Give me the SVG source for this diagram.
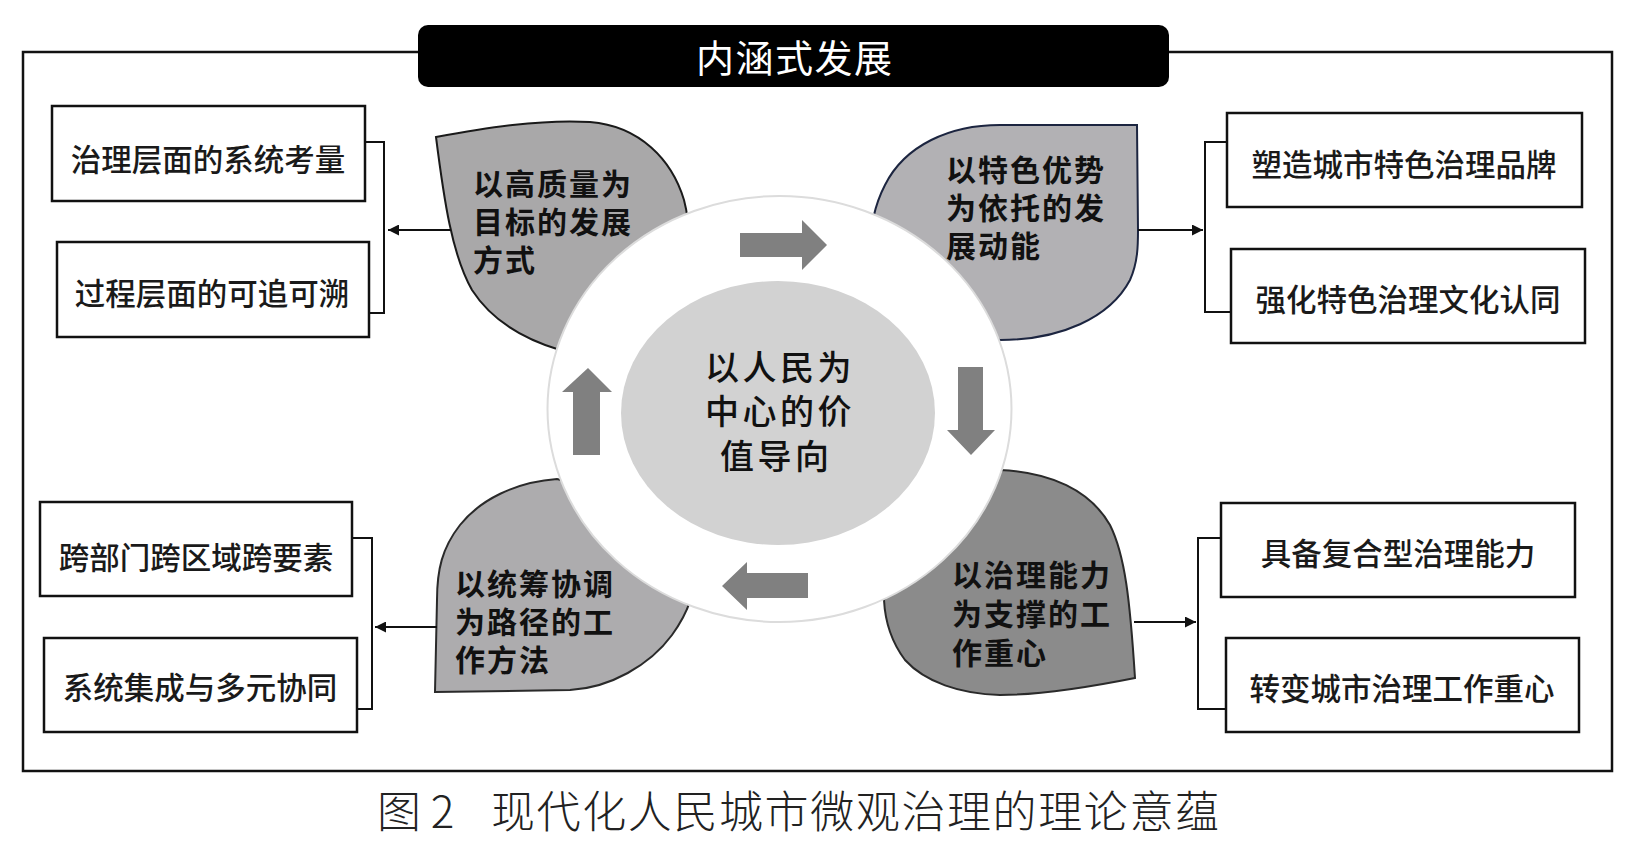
<svg xmlns="http://www.w3.org/2000/svg" width="1634" height="846" viewBox="0 0 1634 846">
<defs>
<style>
.box{fill:#fff;stroke:#111;stroke-width:2.5}
.bt{font-family:"Noto Sans CJK SC","Noto Sans",sans-serif;font-size:30.5px;font-weight:500;fill:#1a1a1a;text-anchor:middle}
.lt{font-family:"Noto Sans CJK SC","Noto Sans",sans-serif;font-size:30px;font-weight:bold;fill:#111;letter-spacing:2px}
.ct{font-family:"Noto Sans CJK SC","Noto Sans",sans-serif;font-size:34px;font-weight:500;fill:#111;letter-spacing:3.5px}
.leaf{stroke-width:2}
.conn{fill:none;stroke:#111;stroke-width:2}
.blk{fill:#808080}
</style>
<marker id="ah" viewBox="0 0 10 10" refX="10" refY="5" markerWidth="11" markerHeight="11" markerUnits="userSpaceOnUse" orient="auto">
<path d="M0,0 L10,5 L0,10 Z" fill="#111"/>
</marker>
</defs>
<rect width="1634" height="846" fill="#fff"/>
<g id="frame">
<rect x="23" y="52" width="1589" height="719" fill="none" stroke="#111" stroke-width="2.5"/>
</g>
<g id="title">
<rect x="418" y="25" width="751" height="62" rx="10" fill="#000"/>
<text x="696" y="72" font-family="Noto Sans CJK SC, sans-serif" font-size="38" fill="#fff" letter-spacing="1.5">内涵式发展</text>
</g>
<g id="leaf-tl">
<path class="leaf" d="M436,137 C485,128 540,119 590,122 C640,126 672,160 684,200 C692,230 690,270 680,310 L620,360 L560,350 C520,338 490,318 472,290 C452,255 444,200 436,137 Z" fill="#a9a8a9" stroke="#1a1a1a"/>
<text class="lt"><tspan x="473" y="195">以高质量为</tspan><tspan x="473" y="233">目标的发展</tspan><tspan x="473" y="271">方式</tspan></text>
</g>
<g id="leaf-tr">
<path class="leaf" d="M1137,125 L1000,125 C950,125 905,145 885,185 C872,210 868,240 870,270 L960,330 L1000,340 C1060,340 1110,318 1130,280 C1138,262 1138,245 1138,230 Z" fill="#b2b1b4" stroke="#1c2540"/>
<text class="lt"><tspan x="946" y="181">以特色优势</tspan><tspan x="946" y="219">为依托的发</tspan><tspan x="946" y="257">展动能</tspan></text>
</g>
<g id="leaf-bl">
<path class="leaf" d="M435,692 L570,690 C610,688 650,665 672,635 C690,610 695,590 695,570 L640,500 L557,479 C515,482 480,500 460,525 C442,548 437,570 437,600 Z" fill="#adacae" stroke="#2a2a2a"/>
<text class="lt"><tspan x="455" y="595">以统筹协调</tspan><tspan x="455" y="633">为路径的工</tspan><tspan x="455" y="671">作方法</tspan></text>
</g>
<g id="leaf-br">
<path class="leaf" d="M1135,678 C1100,685 1040,695 1000,695 C960,694 925,682 905,660 C890,640 885,620 884,600 L920,520 L1000,470 C1050,472 1090,490 1110,525 C1125,555 1130,600 1135,678 Z" fill="#8b8b8b" stroke="#2a2a2a"/>
<text class="lt"><tspan x="952" y="586">以治理能力</tspan><tspan x="952" y="625">为支撑的工</tspan><tspan x="952" y="664">作重心</tspan></text>
</g>
<g id="ring">
<ellipse cx="779.5" cy="409" rx="232" ry="213" fill="#fff" stroke="#dcdcdc" stroke-width="2"/>
</g>
<g id="core">
<ellipse cx="778" cy="413" rx="157" ry="132" fill="#d2d2d2"/>
<text class="ct"><tspan x="705" y="380">以人民为</tspan><tspan x="705" y="424">中心的价</tspan><tspan x="720" y="469">值导向</tspan></text>
</g>
<g id="cycle-arrows">
<polygon class="blk" points="740,233 802,233 802,220 827,245 802,270 802,257 740,257"/>
<polygon class="blk" points="958,367 983,367 983,430 995,430 971,455 947,430 958,430"/>
<polygon class="blk" points="808,573 747,573 747,562 722,586 747,610 747,598 808,598"/>
<polygon class="blk" points="573,455 573,392 562,392 588,368 612,392 600,392 600,455"/>
</g>
<g id="box-1"><rect class="box" x="52" y="106" width="313" height="95"/><text class="bt" x="208" y="171">治理层面的系统考量</text></g>
<g id="box-2"><rect class="box" x="57" y="242" width="312" height="95"/><text class="bt" x="212" y="305">过程层面的可追可溯</text></g>
<g id="box-3"><rect class="box" x="1227" y="113" width="355" height="94"/><text class="bt" x="1404" y="176">塑造城市特色治理品牌</text></g>
<g id="box-4"><rect class="box" x="1231" y="249" width="354" height="94"/><text class="bt" x="1408" y="311">强化特色治理文化认同</text></g>
<g id="box-5"><rect class="box" x="40" y="502" width="312" height="94"/><text class="bt" x="196" y="569">跨部门跨区域跨要素</text></g>
<g id="box-6"><rect class="box" x="44" y="638" width="313" height="94"/><text class="bt" x="200" y="699">系统集成与多元协同</text></g>
<g id="box-7"><rect class="box" x="1221" y="503" width="354" height="94"/><text class="bt" x="1398" y="565">具备复合型治理能力</text></g>
<g id="box-8"><rect class="box" x="1226" y="638" width="353" height="94"/><text class="bt" x="1402" y="700">转变城市治理工作重心</text></g>
<g id="connectors">
<polyline class="conn" points="365,142 384,142 384,313 369,313"/>
<line class="conn" x1="451" y1="230" x2="388" y2="230" marker-end="url(#ah)"/>
<polyline class="conn" points="1227,142 1205,142 1205,312 1231,312"/>
<line class="conn" x1="1138" y1="230" x2="1203" y2="230" marker-end="url(#ah)"/>
<polyline class="conn" points="352,538 372,538 372,709 357,709"/>
<line class="conn" x1="437" y1="627" x2="375" y2="627" marker-end="url(#ah)"/>
<polyline class="conn" points="1221,538 1198,538 1198,709 1226,709"/>
<line class="conn" x1="1134" y1="622" x2="1196" y2="622" marker-end="url(#ah)"/>
</g>
<g id="caption">
<text x="377" y="828" font-family="Noto Sans CJK SC, sans-serif" font-size="44" font-weight="300" fill="#222">图 2</text>
<text x="491" y="828" font-family="Noto Sans CJK SC, sans-serif" font-size="44" font-weight="300" fill="#222" letter-spacing="1.6">现代化人民城市微观治理的理论意蕴</text>
</g>
</svg>
